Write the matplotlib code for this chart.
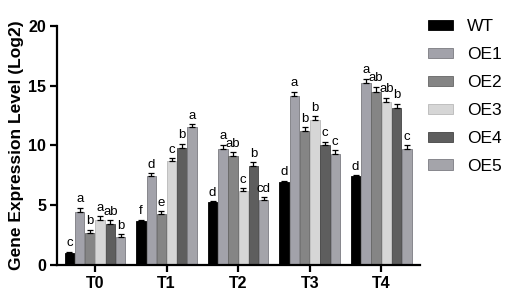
import numpy as np
import matplotlib
matplotlib.use("Agg")
import matplotlib.pyplot as plt

plt.rcParams['font.family'] = ['Liberation Sans', 'DejaVu Sans']

groups = ["T0", "T1", "T2", "T3", "T4"]
lines = ["WT", "OE1", "OE2", "OE3", "OE4", "OE5"]
values = {
    "WT":  [1.0, 3.7, 5.25, 6.95, 7.4],
    "OE1": [4.4, 7.4, 9.7, 14.1, 15.25],
    "OE2": [2.7, 4.3, 9.1, 11.2, 14.5],
    "OE3": [3.8, 8.7, 6.2, 12.1, 13.6],
    "OE4": [3.4, 9.8, 8.3, 10.0, 13.1],
    "OE5": [2.35, 11.5, 5.45, 9.3, 9.7],
}
errors = {
    "WT":  [0.1, 0.1, 0.08, 0.1, 0.1],
    "OE1": [0.4, 0.3, 0.35, 0.4, 0.35],
    "OE2": [0.25, 0.2, 0.35, 0.35, 0.4],
    "OE3": [0.3, 0.25, 0.2, 0.35, 0.4],
    "OE4": [0.35, 0.35, 0.3, 0.3, 0.4],
    "OE5": [0.2, 0.3, 0.2, 0.3, 0.3],
}
letters = {
    "WT":  ["c", "f", "d", "d", "d"],
    "OE1": ["a", "d", "a", "a", "a"],
    "OE2": ["b", "e", "ab", "b", "ab"],
    "OE3": ["a", "c", "c", "b", "ab"],
    "OE4": ["ab", "b", "b", "c", "b"],
    "OE5": ["b", "a", "cd", "c", "c"],
}
colors = ["#000000", "#a2a2aa", "#858585", "#d6d6d6", "#5e5e5e", "#a4a4aa"]
edges = ["#000000", "#7a7a80", "#666666", "#b8b8b8", "#444444", "#7c7c82"]

fig = plt.figure(figsize=(5.1, 2.98), dpi=100)
ax = fig.add_axes([0.112, 0.111, 0.712, 0.802])

x = np.arange(len(groups))
w = 0.143
for i, name in enumerate(lines):
    pos = x + (i - 2.5) * w
    vals = np.array(values[name])
    err = np.array(errors[name])
    ax.bar(pos, vals, width=w * 0.92, color=colors[i], edgecolor=edges[i],
           linewidth=0.6, label=name, zorder=2)
    ax.errorbar(pos, vals, yerr=[np.zeros_like(err), err], fmt='none',
                ecolor='black', elinewidth=0.9, capsize=2.2, capthick=0.9, zorder=3)
    for p, v, e, t in zip(pos, vals, err, letters[name]):
        ax.text(p, v + e + 0.2, t, ha='center', va='bottom', fontsize=9.5)

ax.set_xlim(-0.53, 4.545)
ax.set_ylim(0, 20)
ax.set_yticks([0, 5, 10, 15, 20])
ax.set_xticks(x)
ax.set_xticklabels(groups)
for lab in ax.get_xticklabels() + ax.get_yticklabels():
    lab.set_fontweight('bold')
    lab.set_fontsize(11.5)
ax.set_ylabel("Gene Expression Level (Log2)", fontsize=12.5, fontweight='bold', labelpad=3)

ax.spines['top'].set_visible(False)
ax.spines['right'].set_visible(False)
ax.spines['left'].set_linewidth(1.6)
ax.spines['bottom'].set_linewidth(1.6)
ax.tick_params(axis='both', width=1.6, length=5, direction='out', pad=3)

fig.legend(loc='upper left', bbox_to_anchor=(0.839, 0.935), frameon=False,
           borderpad=0, borderaxespad=0,
           fontsize=12.5, handlelength=1.44, handleheight=0.52, handletextpad=0.8,
           labelspacing=0.74)

fig.savefig("out.png", dpi=100)
